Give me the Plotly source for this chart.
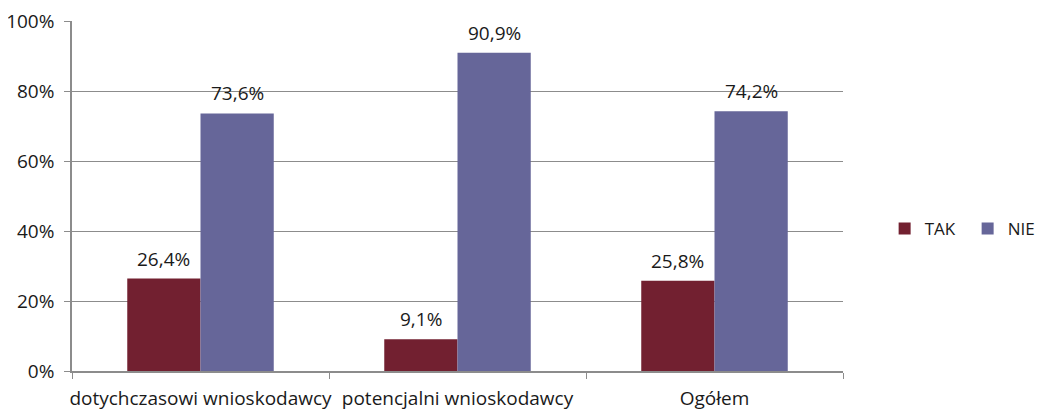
import plotly.graph_objects as go

categories = ["dotychczasowi wnioskodawcy", "potencjalni wnioskodawcy", "Ogółem"]
tak_values = [0.264, 0.091, 0.258]
nie_values = [0.736, 0.909, 0.742]
series_names = ["TAK", "NIE"]
y_ticks = [0, 0.2, 0.4, 0.6, 0.8, 1.0]

font_family = "Open Sans, DejaVu Sans, sans-serif"
grid_color = "#8c8c8c"
fs = 19
bargap = 0.43
plot_w = 771

fig = go.Figure()
fig.add_trace(go.Bar(
    x=categories, y=tak_values, name=series_names[0],
    marker=dict(color="#722030", line=dict(width=0)),
))
fig.add_trace(go.Bar(
    x=categories, y=nie_values, name=series_names[1],
    marker=dict(color="#666699", line=dict(width=0)),
))

# value labels above bars
cat_px = plot_w / len(categories)
bar_px = cat_px * (1 - bargap) / 2
for vals, sign in ((tak_values, -1), (nie_values, 1)):
    for c, v in zip(categories, vals):
        fig.add_annotation(
            x=c, y=v, xref="x", yref="y", text=f"{v*100:.1f}%".replace(".", ","),
            showarrow=False, xshift=sign * bar_px / 2, yshift=20,
            yanchor="middle", xanchor="center",
            font=dict(size=fs, family=font_family, color="#1a1a1a"),
        )

fig.update_layout(
    width=1043, height=402,
    margin=dict(l=64, r=208, t=13, b=39, autoexpand=False),
    paper_bgcolor="white", plot_bgcolor="white",
    barmode="group", bargap=bargap, bargroupgap=0,
    separators=", ",
    font=dict(family=font_family, size=fs, color="#1a1a1a"),
    showlegend=True,
    legend=dict(
        orientation="h", x=1.054, xanchor="left", y=0.406, yanchor="middle",
        font=dict(size=17, family=font_family, color="#1a1a1a"),
        itemwidth=30, entrywidth=38, traceorder="normal",
    ),
    xaxis=dict(
        showline=True, linecolor=grid_color, linewidth=1.5,
        ticks="outside", tickson="boundaries", ticklen=6, tickcolor=grid_color,
        tickfont=dict(size=fs), showgrid=False, automargin=False,
        ticklabelstandoff=9, tickangle=0, ticklabeloverflow="allow",
    ),
    yaxis=dict(
        range=[0, 1.0], tickvals=y_ticks, tickformat=".0%",
        showline=True, linecolor=grid_color, linewidth=1.5,
        ticks="outside", ticklen=6, tickcolor=grid_color,
        showgrid=True, gridcolor=grid_color, gridwidth=1.2,
        tickfont=dict(size=fs), zeroline=False, automargin=False,
        ticklabelstandoff=6, ticklabeloverflow="allow",
    ),
)

fig.write_html("out.html")
